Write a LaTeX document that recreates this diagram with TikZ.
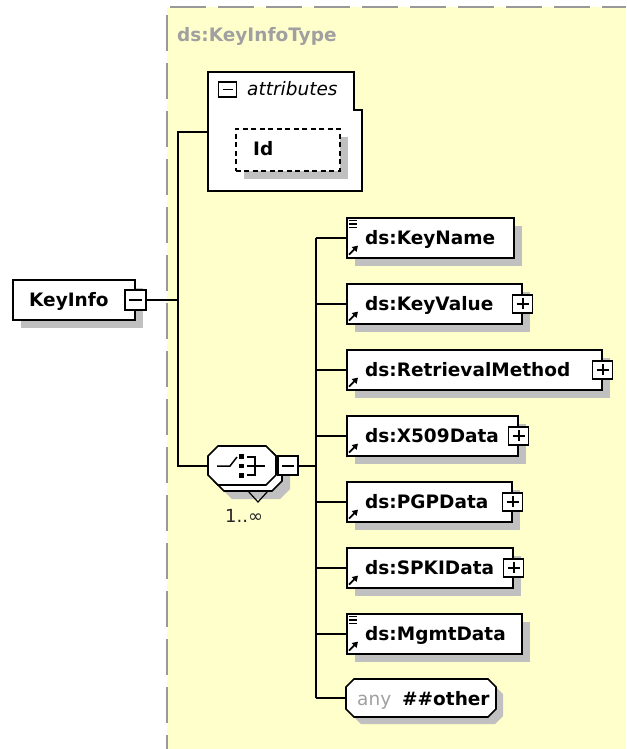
\documentclass[tikz,border=0pt]{standalone}
\usepackage{fontspec}
\setmainfont{DejaVu Sans}
\usetikzlibrary{arrows.meta,shadows}
\definecolor{bgyellow}{HTML}{FFFFCC}
\definecolor{shgray}{HTML}{C0C0C0}
\definecolor{dashgray}{HTML}{999999}
\definecolor{txtgray}{HTML}{A0A0A0}
\tikzset{
 lw/.style={line width=1.6pt},
 shbox/.style={draw, lw, fill=white, rectangle, inner sep=0pt, anchor=north west,
   drop shadow={shadow xshift=8pt, shadow yshift=-8pt, opacity=1, fill=shgray}},
 ghost/.style={rectangle, inner sep=0pt, anchor=north west, draw=none},
 ename/.style={font=\bfseries\fontsize{18.5}{22}\selectfont, inner sep=0pt, anchor=base west},
 pmbox/.style={draw, line width=1.6pt, fill=white, rectangle, minimum width=20pt, minimum height=18pt, inner sep=0pt},
 minusbox/.style={pmbox, path picture={\draw[line width=1.8pt] ([xshift=4pt]path picture bounding box.west) -- ([xshift=-4pt]path picture bounding box.east);}},
 plusbox/.style={pmbox, path picture={\draw[line width=1.8pt] ([xshift=4pt]path picture bounding box.west) -- ([xshift=-4pt]path picture bounding box.east);
   \draw[line width=1.8pt] ([yshift=-3.5pt]path picture bounding box.north) -- ([yshift=3.5pt]path picture bounding box.south);}},
 refarrow/.style={line width=1.8pt, -{Triangle[length=5.5pt,width=6.5pt]}},
 simplelines/.style={line width=1.2pt},
}
\begin{document}
\begin{tikzpicture}[x=1pt,y=-1pt]
\useasboundingbox (0,0) rectangle (626,749);
% background of the complex type
\fill[bgyellow] (167,7) rectangle (626,749);
\draw[dashgray, line width=2pt, dash pattern=on 36pt off 12pt] (170,7) -- (626,7);
\draw[dashgray, line width=2pt, dash pattern=on 36pt off 12pt] (167,15) -- (167,749);
\node[ename, text=txtgray] (tn) at (177,42) {ds:KeyInfoType};

% KeyInfo element
\node[shbox, minimum width=122pt, minimum height=40pt] (ki) at (12,279) {};
\node[ename] (kit) at (29,306) {KeyInfo};
\node[minusbox, minimum width=21pt, minimum height=20pt] (kim) at (ki.east) {};

% attributes box
\node[ghost, minimum width=146pt, minimum height=119pt] (attr) at (208,72) {};
\filldraw[fill=white, lw] (208,72) -- (354,72) -- (354,110) -- (362,110) -- (362,191) -- (208,191) -- cycle;
\node[minusbox, minimum width=18pt, minimum height=15pt] (am) at (227.5,89.5) {};
\node[font=\itshape\fontsize{18.5}{22}\selectfont, inner sep=0pt, anchor=base west] (att) at (247,96) {attributes};
\node[shbox, dash pattern=on 5pt off 3.5pt, minimum width=104pt, minimum height=42pt] (id) at (235,128) {};
\node[ename] (idt) at (253,155.5) {Id};

% choice compositor
\node[ghost, minimum width=68pt, minimum height=39pt] (ch) at (208,446) {};
\fill[shgray] (232,460) -- (280,460) -- (290,470) -- (290,489) -- (280,499) -- (232,499) -- (222,489) -- (222,470) -- cycle;
\filldraw[fill=white, lw] (224,452) -- (272,452) -- (282,462) -- (282,481) -- (272,491) -- (224,491) -- (214,481) -- (214,462) -- cycle;
\filldraw[fill=white, lw] (218,446) -- (266,446) -- (276,456) -- (276,475) -- (266,485) -- (218,485) -- (208,475) -- (208,456) -- cycle;
\draw[line width=1.2pt] (248,491) -- (258,502) -- (268,491);
\draw[line width=1.5pt] (217,466) -- (230,466) -- (237,457);
\fill (239,454) rectangle (244,458.5);
\fill (239,463.5) rectangle (244,468);
\fill (239,473) rectangle (244,477.5);
\draw[line width=1.5pt] (247,457) -- (255,457) -- (255,475) -- (247,475);
\draw[line width=1.5pt] (247,466) -- (265,466);
\node[minusbox, minimum height=19pt, anchor=west] (chm) at ([xshift=1pt]ch.east) {};
\node[font=\fontsize{18}{20}\selectfont, inner sep=0pt, anchor=base west, text=black!85] (card) at (225,522) {1..∞};

% child elements
\node[shbox, minimum width=167pt, minimum height=40pt] (kn) at (346,217) {};
\node[ename] (knt) at (365,244) {ds:KeyName};
\node[shbox, minimum width=175pt, minimum height=40pt] (kv) at (346,283) {};
\node[ename] (kvt) at (365,310) {ds:KeyValue};
\node[plusbox] (kvp) at (kv.east) {};
\node[shbox, minimum width=255pt, minimum height=40pt] (rm) at (346,349) {};
\node[ename] (rmt) at (365,376) {ds:RetrievalMethod};
\node[plusbox] (rmp) at (rm.east) {};
\node[shbox, minimum width=171pt, minimum height=40pt] (xd) at (346,415) {};
\node[ename] (xdt) at (365,442) {ds:X509Data};
\node[plusbox] (xdp) at (xd.east) {};
\node[shbox, minimum width=165pt, minimum height=40pt] (pg) at (346,481) {};
\node[ename] (pgt) at (365,508) {ds:PGPData};
\node[plusbox] (pgp) at (pg.east) {};
\node[shbox, minimum width=166pt, minimum height=40pt] (sp) at (346,547) {};
\node[ename] (spt) at (365,574) {ds:SPKIData};
\node[plusbox] (spp) at (sp.east) {};
\node[shbox, minimum width=175pt, minimum height=40pt] (mg) at (346,613) {};
\node[ename] (mgt) at (365,640) {ds:MgmtData};

% icons
\foreach \b in {kn,kv,rm,xd,pg,sp,mg}
  \draw[refarrow] ([xshift=3pt,yshift=4pt]\b.south west) -- ++(9,-9);
\foreach \b in {kn,mg}
  \foreach \d in {3.5,7,10.5}
    \draw[simplelines] ([xshift=3pt,yshift=-\d pt]\b.north west) -- ++(8,0);

% any
\node[ghost, minimum width=150pt, minimum height=38pt] (any) at (346,679) {};
\fill[shgray] (361,686) -- (495,686) -- (503,694) -- (503,716) -- (495,724) -- (361,724) -- (353,716) -- (353,694) -- cycle;
\filldraw[fill=white, lw] (354,679) -- (488,679) -- (496,687) -- (496,709) -- (488,717) -- (354,717) -- (346,709) -- (346,687) -- cycle;
\node[font=\fontsize{18.5}{22}\selectfont, inner sep=0pt, anchor=base west, text=txtgray] (anyt) at (357,705) {any};
\node[ename] (oth) at (402,705) {\#\#other};

% connectors
\coordinate (jx) at (178,0);
\coordinate (bx) at (316,0);
\draw[lw] (kim.east) -- (kim.east -| jx);
\draw[lw] (attr.west) -- (attr.west -| jx) -- (ch.west -| jx) -- (ch.west);
\draw[lw] (chm.east) -- (chm.east -| bx);
\draw[lw] (kn.west -| bx) -- (any.west -| bx);
\foreach \b in {kn,kv,rm,xd,pg,sp,mg,any}
  \draw[lw] (\b.west) -- (\b.west -| bx);
\end{tikzpicture}
\end{document}
